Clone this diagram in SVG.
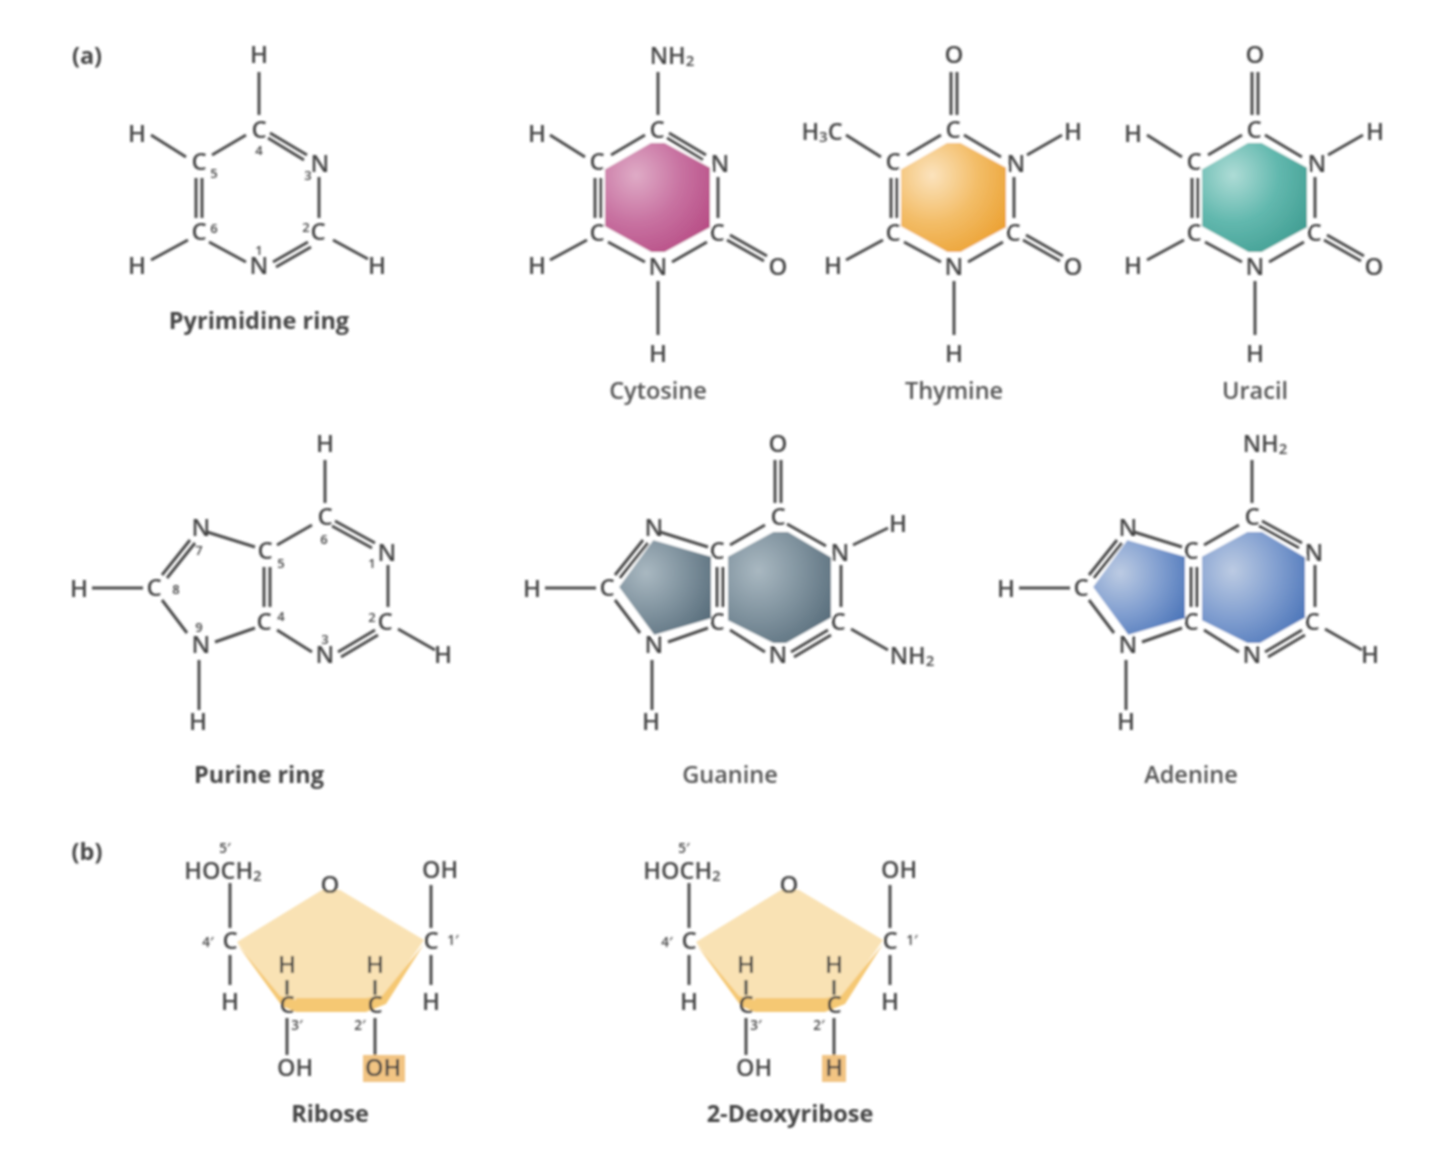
<svg xmlns="http://www.w3.org/2000/svg" xmlns:xlink="http://www.w3.org/1999/xlink" width="1440" height="1157" viewBox="0 0 1440 1157">
<style>
text{font-family:"Open Sans","Noto Sans","Liberation Sans",sans-serif;fill:#444;text-anchor:middle;dominant-baseline:central;transform:translateY(-1.5px)}
.a{font-size:24px;font-weight:600}
.n{font-size:13px;fill:#444;font-weight:600}
.l{font-size:23.5px;fill:#555;font-weight:600}
.b{font-size:23.5px;font-weight:700;fill:#444}
.s{font-size:23.5px;font-weight:600}
.p{font-size:13.5px;fill:#444;font-weight:600}
.bond{fill:none;stroke:#4c4c4c;stroke-width:3}
.fill{stroke:#fff;stroke-width:2;stroke-linejoin:round}
</style>
<defs>
<filter id="soft" x="0" y="0" width="1440" height="1157" filterUnits="userSpaceOnUse"><feGaussianBlur stdDeviation="1"/></filter>
<radialGradient id="gC" cx=".3" cy=".3" r=".85"><stop offset="0" stop-color="#dfabc6"/><stop offset=".5" stop-color="#c872a1"/><stop offset="1" stop-color="#b64a83"/></radialGradient>
<radialGradient id="gT" cx=".3" cy=".3" r=".85"><stop offset="0" stop-color="#fbe3bd"/><stop offset=".5" stop-color="#f3bd68"/><stop offset="1" stop-color="#eb9f2e"/></radialGradient>
<radialGradient id="gU" cx=".3" cy=".3" r=".85"><stop offset="0" stop-color="#aedcd6"/><stop offset=".5" stop-color="#62b8ae"/><stop offset="1" stop-color="#3f9c91"/></radialGradient>
<radialGradient id="gG" cx=".3" cy=".35" r=".8"><stop offset="0" stop-color="#a9b8c1"/><stop offset=".55" stop-color="#7d909c"/><stop offset="1" stop-color="#596e7c"/></radialGradient>
<radialGradient id="gA" cx=".3" cy=".35" r=".8"><stop offset="0" stop-color="#bccbe3"/><stop offset=".55" stop-color="#7f9dcf"/><stop offset="1" stop-color="#4d76b9"/></radialGradient>
<path id="pyrCommon" class="bond" d="M611 155L645 135M595 178V218M601 178V218M608 242L645 262M672 262L707 242M718 177V218M550 135L585 157M550 260L587 240"/>
<path id="pyrOxo" class="bond" d="M658 281V335M730 235L767 256M727 240L764 261"/>
<path id="pyrTU" class="bond" d="M655 72V115M661 72V115M668 135L705 157M731 155L766 135"/>
<path id="purCommon" class="bond" d="M277 545L312 525M388 565V607M338 652L375 630M341 657L378 635M398 629L435 650M277 630L312 652M264 567V607M270 567V607M207 532L255 547M162 575L190 540M167 578L195 543M162 600L187 633M215 642L255 628M92 588H143M199 660V710"/>
<path id="sugar" class="bond" d="M230 883V928M230 955V985M431 885V928M431 955V985M287 980V995M287 1018V1055M375 980V995M375 1018V1055"/>
<polygon id="hexP" class="fill" points="604,169 651,142 665,142 711,167 711,228 665,253 651,253 604,227"/>
<polygon id="hexR" class="fill" points="274,556 320,531 335,531 379,557 379,618 333,644 320,644 274,621"/>
<polygon id="pent" class="fill" points="165,587 200,539 259,556 259,619 201,636"/>
</defs>
<g filter="url(#soft)">
<g id="sugar-ribose-fill">
<polygon points="322,890 340,890 424,940 383,1000 278,1000 237,942" fill="#f9e2b4"/>
<polygon points="237,944 280,996 296,1000 296,1012 282,1006" fill="#f5c873"/>
<polygon points="296,998 366,998 366,1012 296,1012" fill="#f5c873"/>
<polygon points="366,998 382,996 424,944 386,1004 366,1012" fill="#f5c873"/>
<rect x="363" y="1055" width="42" height="27" fill="#f2c483"/>
</g>
<g id="sugar-deoxy-fill" transform="translate(459 0)">
<polygon points="322,890 340,890 424,940 383,1000 278,1000 237,942" fill="#f9e2b4"/>
<polygon points="237,944 280,996 296,1000 296,1012 282,1006" fill="#f5c873"/>
<polygon points="296,998 366,998 366,1012 296,1012" fill="#f5c873"/>
<polygon points="366,998 382,996 424,944 386,1004 366,1012" fill="#f5c873"/>
<rect x="363" y="1055" width="24" height="27" fill="#f2c483"/>
</g>
<use href="#hexP" fill="url(#gC)"/>
<use href="#hexP" fill="url(#gT)" transform="translate(296 0)"/>
<use href="#hexP" fill="url(#gU)" transform="translate(597 0)"/>
<use href="#hexR" fill="url(#gG)" transform="translate(453 0)"/>
<use href="#pent" fill="url(#gG)" transform="translate(453 0)"/>
<use href="#hexR" fill="url(#gA)" transform="translate(927 0)"/>
<use href="#pent" fill="url(#gA)" transform="translate(927 0)"/>
<g id="connectors">
<g transform="translate(-399 0)"><use href="#pyrCommon"/><path class="bond" d="M658 72V115M669 133L706 155M667 138L703 160M675 267L710 247M732 240L767 259"/></g>
<g><use href="#pyrCommon"/><use href="#pyrOxo"/><path class="bond" d="M658 72V115M669 133L706 155M667 138L703 160"/></g>
<g transform="translate(296 0)"><use href="#pyrCommon"/><use href="#pyrOxo"/><use href="#pyrTU"/></g>
<g transform="translate(597 0)"><use href="#pyrCommon"/><use href="#pyrOxo"/><use href="#pyrTU"/></g>
<g><use href="#purCommon"/><path class="bond" d="M325 460V503M335 521L375 543M332 526L372 548"/></g>
<g transform="translate(453 0)"><use href="#purCommon"/><path class="bond" d="M322 460V503M328 460V503M334 524L373 546M400 545L435 528"/></g>
<g transform="translate(927 0)"><use href="#purCommon"/><path class="bond" d="M325 460V503M335 521L375 543M332 526L372 548"/></g>
<use href="#sugar"/>
<use href="#sugar" transform="translate(459 0)"/>
</g>
<text class="b" x="87" y="56">(a)</text>
<text class="b" x="87" y="852">(b)</text>
<g id="pyrimidine">
<text class="a" x="259" y="55">H</text><text class="a" x="137" y="134">H</text><text class="a" x="137" y="266">H</text><text class="a" x="377" y="266">H</text>
<text class="a" x="259" y="130">C</text><text class="a" x="320" y="164">N</text><text class="a" x="318" y="232">C</text><text class="a" x="259" y="266">N</text><text class="a" x="199" y="232">C</text><text class="a" x="199" y="162">C</text>
<text class="n" x="259" y="151">4</text><text class="n" x="214" y="174">5</text><text class="n" x="308" y="176">3</text><text class="n" x="306" y="228">2</text><text class="n" x="214" y="229">6</text><text class="n" x="259" y="251">1</text>
<text class="b" x="259" y="321">Pyrimidine ring</text>
</g>
<g id="cytosine">
<text class="s" x="672" y="56">NH<tspan font-size="15" dy="5">2</tspan></text><text class="a" x="537" y="134">H</text><text class="a" x="537" y="266">H</text><text class="a" x="778" y="267">O</text><text class="a" x="658" y="354">H</text>
<text class="a" x="657" y="130">C</text><text class="a" x="720" y="164">N</text><text class="a" x="717" y="233">C</text><text class="a" x="658" y="267">N</text><text class="a" x="597" y="233">C</text><text class="a" x="597" y="162">C</text>
<text class="l" x="658" y="391">Cytosine</text>
</g>
<g id="thymine">
<text class="a" x="954" y="55">O</text><text class="s" x="822" y="132">H<tspan font-size="15" dy="5">3</tspan><tspan dy="-5">C</tspan></text><text class="a" x="833" y="266">H</text><text class="a" x="1073" y="132">H</text><text class="a" x="1073" y="267">O</text><text class="a" x="954" y="354">H</text>
<text class="a" x="953" y="130">C</text><text class="a" x="1016" y="164">N</text><text class="a" x="1013" y="233">C</text><text class="a" x="954" y="267">N</text><text class="a" x="893" y="233">C</text><text class="a" x="893" y="162">C</text>
<text class="l" x="954" y="391">Thymine</text>
</g>
<g id="uracil">
<text class="a" x="1255" y="55">O</text><text class="a" x="1133" y="134">H</text><text class="a" x="1133" y="266">H</text><text class="a" x="1375" y="132">H</text><text class="a" x="1374" y="267">O</text><text class="a" x="1255" y="354">H</text>
<text class="a" x="1254" y="130">C</text><text class="a" x="1317" y="164">N</text><text class="a" x="1314" y="233">C</text><text class="a" x="1255" y="267">N</text><text class="a" x="1194" y="233">C</text><text class="a" x="1194" y="162">C</text>
<text class="l" x="1255" y="391">Uracil</text>
</g>
<g id="purine">
<text class="a" x="325" y="444">H</text><text class="a" x="79" y="589">H</text><text class="a" x="198" y="722">H</text><text class="a" x="443" y="655">H</text>
<text class="a" x="325" y="517">C</text><text class="a" x="387" y="553">N</text><text class="a" x="385" y="622">C</text><text class="a" x="325" y="655">N</text><text class="a" x="264" y="622">C</text><text class="a" x="265" y="551">C</text><text class="a" x="201" y="528">N</text><text class="a" x="154" y="588">C</text><text class="a" x="201" y="645">N</text>
<text class="n" x="324" y="540">6</text><text class="n" x="281" y="564">5</text><text class="n" x="199" y="551">7</text><text class="n" x="176" y="590">8</text><text class="n" x="199" y="628">9</text><text class="n" x="281" y="617">4</text><text class="n" x="325" y="640">3</text><text class="n" x="372" y="564">1</text><text class="n" x="372" y="618">2</text>
<text class="b" x="259" y="775">Purine ring</text>
</g>
<g id="guanine">
<text class="a" x="778" y="444">O</text><text class="a" x="532" y="589">H</text><text class="a" x="651" y="722">H</text><text class="a" x="898" y="524">H</text><text class="s" x="912" y="656">NH<tspan font-size="15" dy="5">2</tspan></text>
<text class="a" x="778" y="517">C</text><text class="a" x="840" y="553">N</text><text class="a" x="838" y="622">C</text><text class="a" x="778" y="655">N</text><text class="a" x="717" y="622">C</text><text class="a" x="717" y="551">C</text><text class="a" x="654" y="528">N</text><text class="a" x="607" y="588">C</text><text class="a" x="654" y="645">N</text>
<text class="l" x="730" y="775">Guanine</text>
</g>
<g id="adenine">
<text class="s" x="1265" y="444">NH<tspan font-size="15" dy="5">2</tspan></text><text class="a" x="1006" y="589">H</text><text class="a" x="1126" y="722">H</text><text class="a" x="1370" y="655">H</text>
<text class="a" x="1252" y="517">C</text><text class="a" x="1314" y="553">N</text><text class="a" x="1312" y="622">C</text><text class="a" x="1252" y="655">N</text><text class="a" x="1191" y="622">C</text><text class="a" x="1191" y="551">C</text><text class="a" x="1128" y="528">N</text><text class="a" x="1081" y="588">C</text><text class="a" x="1128" y="645">N</text>
<text class="l" x="1191" y="775">Adenine</text>
</g>
<g id="ribose">
<text class="p" x="225" y="849">5′</text><text class="s" x="223" y="871">HOCH<tspan font-size="15" dy="5">2</tspan></text><text class="a" x="330" y="885">O</text><text class="s" x="440" y="870">OH</text>
<text class="a" x="230" y="941">C</text><text class="p" x="208" y="943">4′</text><text class="a" x="230" y="1002">H</text><text class="a" x="431" y="941">C</text><text class="p" x="453" y="941">1′</text><text class="a" x="431" y="1002">H</text>
<text class="a" x="287" y="965">H</text><text class="a" x="287" y="1005">C</text><text class="p" x="297" y="1026">3′</text><text class="s" x="295" y="1068">OH</text>
<text class="a" x="375" y="965">H</text><text class="a" x="375" y="1005">C</text><text class="p" x="360" y="1026">2′</text><text class="s" x="383" y="1068">OH</text>
<text class="b" x="330" y="1114">Ribose</text>
</g>
<g id="deoxyribose">
<text class="p" x="684" y="849">5′</text><text class="s" x="682" y="871">HOCH<tspan font-size="15" dy="5">2</tspan></text><text class="a" x="789" y="885">O</text><text class="s" x="899" y="870">OH</text>
<text class="a" x="689" y="941">C</text><text class="p" x="667" y="943">4′</text><text class="a" x="689" y="1002">H</text><text class="a" x="890" y="941">C</text><text class="p" x="912" y="941">1′</text><text class="a" x="890" y="1002">H</text>
<text class="a" x="746" y="965">H</text><text class="a" x="746" y="1005">C</text><text class="p" x="756" y="1026">3′</text><text class="s" x="754" y="1068">OH</text>
<text class="a" x="834" y="965">H</text><text class="a" x="834" y="1005">C</text><text class="p" x="819" y="1026">2′</text><text class="s" x="834" y="1068">H</text>
<text class="b" x="790" y="1114">2-Deoxyribose</text>
</g>
</g>
</svg>
